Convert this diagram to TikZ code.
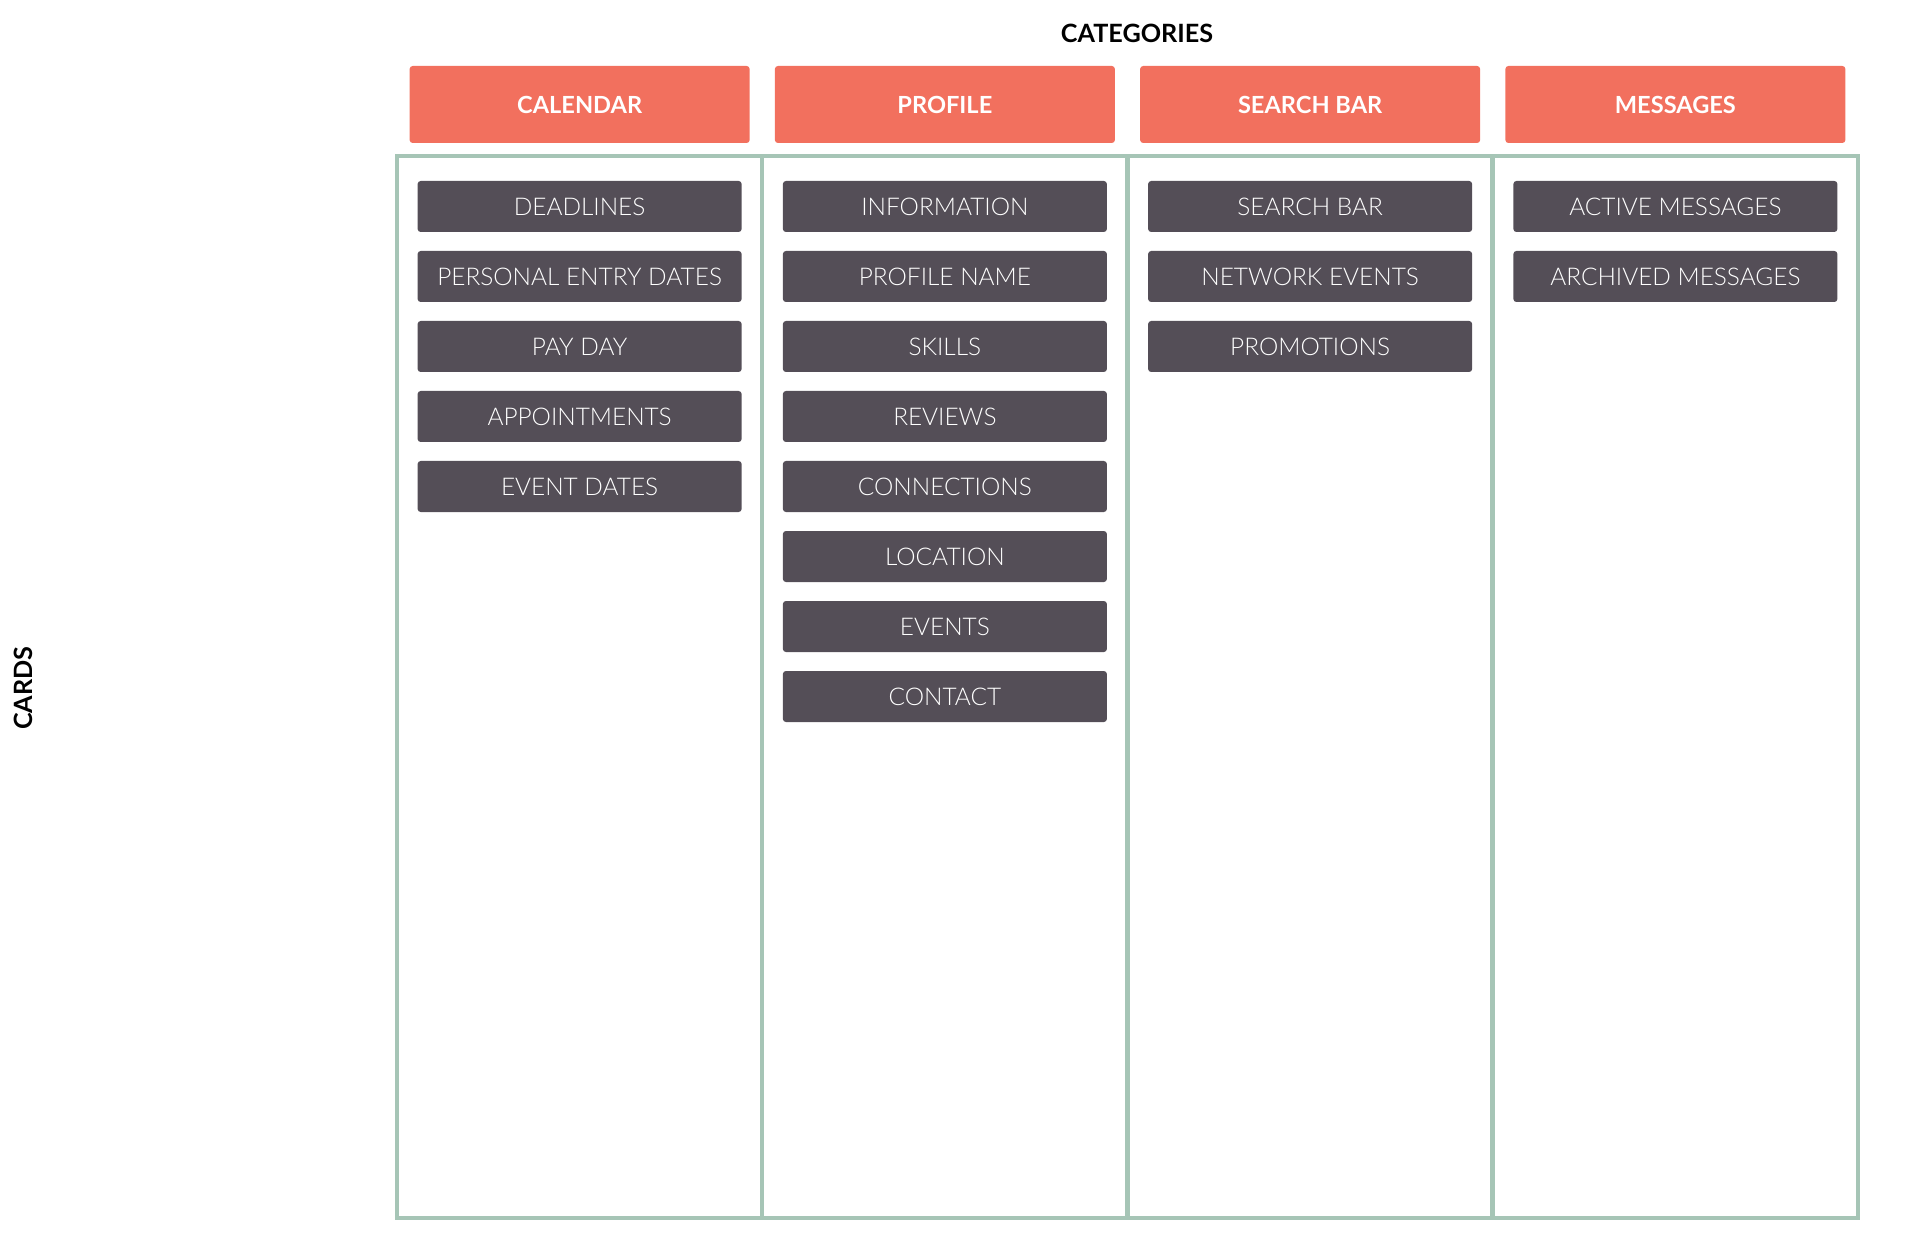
\documentclass[tikz,border=0pt]{standalone}
\usepackage{fontspec}
\setmainfont{Lato}
\newfontfamily\lightfont{Lato Light}
\definecolor{headred}{HTML}{F2705E}
\definecolor{cardgrey}{HTML}{544E57}
\definecolor{framegreen}{HTML}{A6C5B6}
\tikzset{frame/.style={draw=framegreen, line width=2.4pt}}
\tikzset{header/.style={fill=headred, rounded corners=1.5pt, minimum width=170pt, minimum height=38.5pt, text=white, font=\fontsize{11.8}{14}\selectfont\bfseries}}
\tikzset{card/.style={fill=cardgrey, rounded corners=1.5pt, minimum width=162pt, minimum height=25.5pt, text=white, font=\lightfont\fontsize{12.2}{15}\selectfont}}
\tikzset{axislabel/.style={text=black, font=\fontsize{12.6}{15}\selectfont\bfseries}}

\begin{document}
\begin{tikzpicture}[x=0.5pt, y=-0.5pt]
            \useasboundingbox (0, 0) rectangle (1920, 1245);
            \node[axislabel] (categories) at (1137, 33) {CATEGORIES};
            \node[axislabel, rotate=90] (cards) at (23, 688) {CARDS};
            % board
            \draw[frame] (397, 156) rectangle (1858, 1218);
            \foreach \x in {762, 1127.5, 1492.75} {
                \draw[frame] (\x, 156) -- (\x, 1218);
            }
            % category headers and their cards
            \foreach \cat/\title/\items [count=\i] in {
                    cal/CALENDAR/{DEADLINES, PERSONAL ENTRY DATES, PAY DAY, APPOINTMENTS, EVENT DATES},
                    prof/PROFILE/{INFORMATION, PROFILE NAME, SKILLS, REVIEWS, CONNECTIONS, LOCATION, EVENTS, CONTACT},
                    search/SEARCH BAR/{SEARCH BAR, NETWORK EVENTS, PROMOTIONS},
                    msg/MESSAGES/{ACTIVE MESSAGES, ARCHIVED MESSAGES}} {
                \node[header] (\cat) at ({397 + 365.25*(\i - 0.5)}, 104.5) {\title};
                \foreach \item [count=\j] in \items {
                    \node[card] (\cat-\j) at ({397 + 365.25*(\i - 0.5)}, {206.5 + 70*(\j - 1)}) {\item};
                }
            }
        \end{tikzpicture}
\end{document}
